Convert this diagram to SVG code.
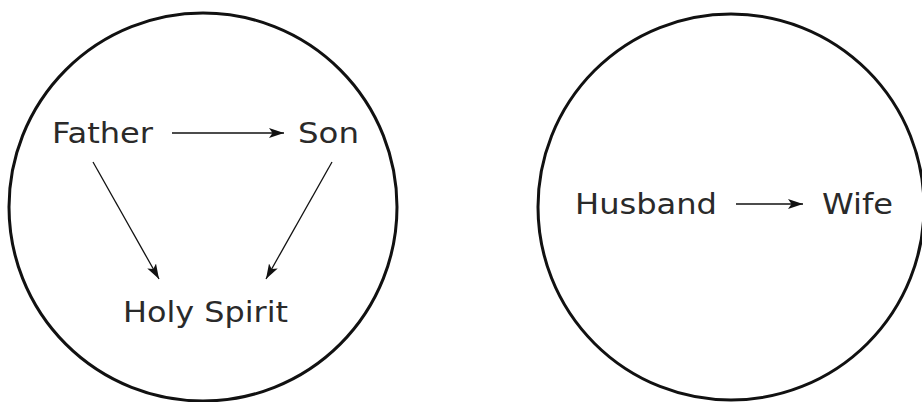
<svg xmlns="http://www.w3.org/2000/svg" width="922" height="402" viewBox="0 0 922 402">
<style>
.ring{fill:none;stroke:#111;stroke-width:3}
.lbl{font-family:"DejaVu Sans","Liberation Sans",sans-serif;font-size:29px;fill:#2a2a2a}
.edge{stroke:#111;stroke-width:1.3;fill:none;marker-end:url(#ah)}
</style>
<defs>
<marker id="ah" markerUnits="userSpaceOnUse" markerWidth="16" markerHeight="12" viewBox="0 0 16 12" refX="15" refY="6" orient="auto">
<path d="M0,1 L15,6 L0,11 L3.5,6 Z" fill="#111"/>
</marker>
</defs>
<rect width="922" height="402" fill="#fff"/>
<g id="trinity">
<circle class="ring" cx="203" cy="207" r="194"/>
</g>
<g id="marriage">
<circle class="ring" cx="731" cy="207" r="193"/>
</g>
<g id="father"><text class="lbl" x="52" y="143" textLength="101" lengthAdjust="spacingAndGlyphs">Father</text></g>
<g id="son"><text class="lbl" x="298" y="143" textLength="61" lengthAdjust="spacingAndGlyphs">Son</text></g>
<g id="holy-spirit"><text class="lbl" x="123" y="322" textLength="165" lengthAdjust="spacingAndGlyphs">Holy Spirit</text></g>
<g id="husband"><text class="lbl" x="575" y="214" textLength="142" lengthAdjust="spacingAndGlyphs">Husband</text></g>
<g id="wife"><text class="lbl" x="822" y="214" textLength="71" lengthAdjust="spacingAndGlyphs">Wife</text></g>
<g id="connectors">
<line class="edge" x1="172" y1="133" x2="284" y2="133"/>
<line class="edge" x1="93" y1="162" x2="159" y2="279"/>
<line class="edge" x1="332" y1="162" x2="266" y2="279"/>
<line class="edge" x1="736" y1="204" x2="803" y2="204"/>
</g>
</svg>
